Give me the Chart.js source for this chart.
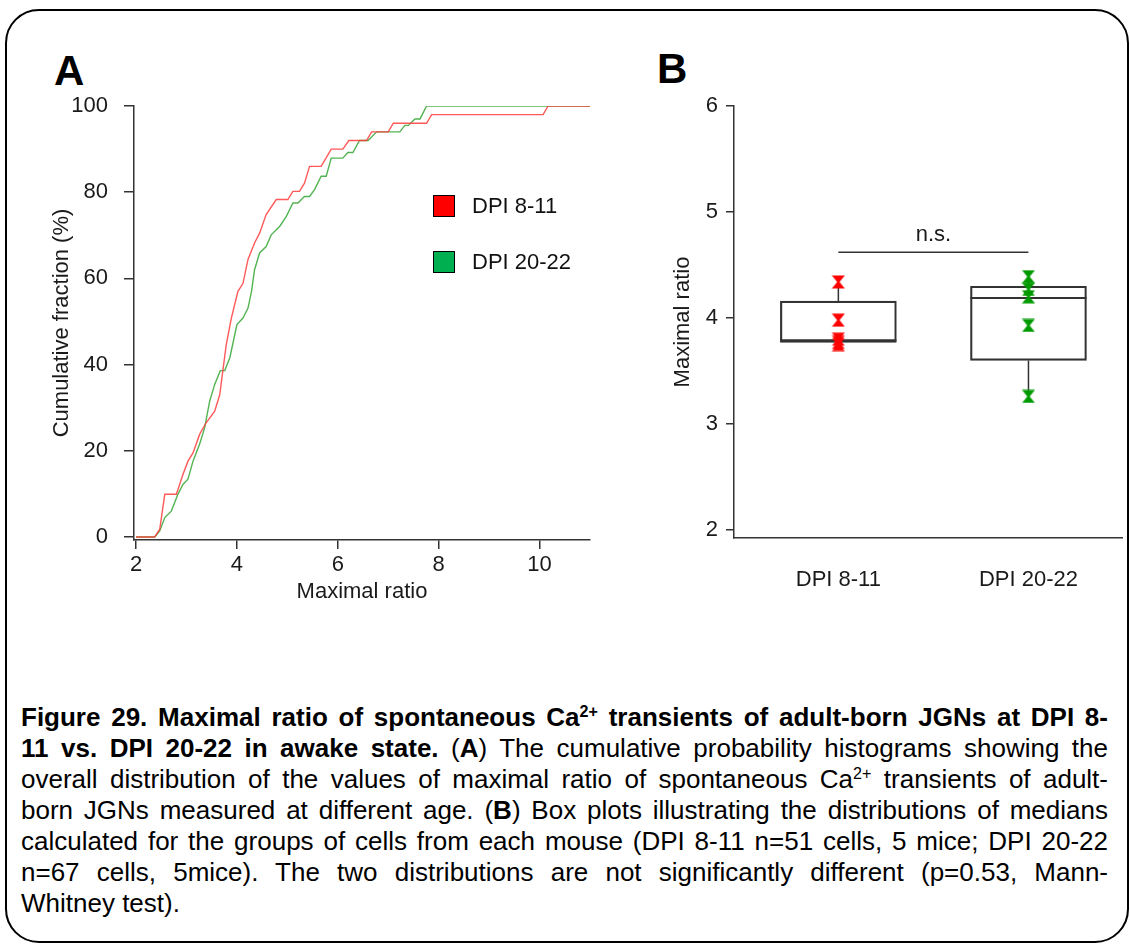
<!DOCTYPE html>
<html><head><meta charset="utf-8">
<script src="https://cdn.jsdelivr.net/npm/chart.js@4.4.1/dist/chart.umd.min.js"></script>
<style>
html,body{margin:0;padding:0;background:#fff;width:1130px;height:945px;overflow:hidden;font-family:'Liberation Sans',Arial,Helvetica,sans-serif;}
#frame{position:absolute;left:5px;top:9px;width:1120px;height:930px;border:2.5px solid #000;border-radius:34px;box-sizing:content-box;}
.plabel{position:absolute;font-weight:bold;font-size:42px;line-height:42px;color:#000;}
#cA{position:absolute;left:0;top:0;}
#cB{position:absolute;left:620px;top:0;}
.leg{position:absolute;left:433px;height:23px;display:flex;align-items:center;font-size:22px;color:#111;white-space:nowrap;}
.leg .sw{display:inline-block;width:20px;height:20px;border:1.5px solid #000;margin-right:17px;}
#caption{position:absolute;left:21px;top:702px;width:1087px;font-size:26px;line-height:31px;color:#000;}
#caption .ln{text-align:justify;text-align-last:justify;white-space:nowrap;}
#caption .last{text-align:left;text-align-last:left;}
sup{font-size:0.62em;vertical-align:0;position:relative;top:-0.55em;line-height:0;}
</style>
</head><body>
<div id="frame"></div>
<div class="plabel" style="left:54px;top:50px;">A</div>
<div class="plabel" style="left:657px;top:48px;">B</div>
<canvas id="cA" width="620" height="620"></canvas>
<canvas id="cB" width="510" height="620"></canvas>
<div id="legendA"></div>
<div id="caption">
<div class="ln"><b>Figure 29. Maximal ratio of spontaneous Ca<sup>2+</sup> transients of adult-born JGNs at DPI 8-</b></div>
<div class="ln"><b>11 vs. DPI 20-22 in awake state.</b> (<b>A</b>) The cumulative probability histograms showing the</div>
<div class="ln">overall distribution of the values of maximal ratio of spontaneous Ca<sup>2+</sup> transients of adult-</div>
<div class="ln">born JGNs measured at different age. (<b>B</b>) Box plots illustrating the distributions of medians</div>
<div class="ln">calculated for the groups of cells from each mouse (DPI 8-11 n=51 cells, 5 mice; DPI 20-22</div>
<div class="ln">n=67 cells, 5mice). The two distributions are not significantly different (p=0.53, Mann-</div>
<div class="ln last">Whitney test).</div>
</div>
<script>
// ---------- Panel A data (cumulative fraction, %) ----------
const seriesNames = ['DPI 8-11', 'DPI 20-22'];
const seriesColors = ['#ff0000', '#00b050'];
const lineColors = ['rgba(255,60,60,0.85)', 'rgba(40,160,40,0.8)'];
const redX = [2.0,2.37,2.47,2.57,2.80,2.93,3.03,3.13,3.26,3.39,3.56,3.66,3.72,3.79,3.89,4.02,4.12,4.22,4.35,4.45,4.58,4.78,5.01,5.11,5.24,5.34,5.44,5.67,5.87,6.10,6.22,6.57,6.67,7.00,7.10,7.76,7.86,10.07,10.17,11.0];
const redY = [0,0,1.8,9.9,9.9,14.5,17.6,19.5,23.8,26.5,29.2,33,38.5,44.7,50.8,57,58.8,64.4,68.2,70.5,74.8,78.3,78.3,80.2,80.2,82.1,86,86,90,90,92,92,94,94,96,96,98,98,100,100];
const greenX = [2.0,2.37,2.47,2.57,2.70,2.83,2.93,3.03,3.13,3.26,3.36,3.46,3.56,3.67,3.76,3.86,4.00,4.12,4.22,4.29,4.35,4.45,4.58,4.68,4.85,4.98,5.11,5.21,5.34,5.44,5.54,5.67,5.77,5.87,6.10,6.20,6.30,6.43,6.60,6.77,7.23,7.33,7.40,7.53,7.63,7.76,11.0];
const greenY = [0,0,1.4,4.5,6,9.9,12.2,13.4,17.6,21.5,25.3,31.5,35.4,38.6,38.6,41.6,49.3,50.8,53.1,57,62,65.9,67.4,70.1,72.1,74.4,77.5,77.5,79,79,80.6,83.7,83.7,87.9,87.9,89.2,89.2,92,92,94,94,95.5,95.5,97,97,100,100];
const xTicksA = [2,4,6,8,10];
const yTicksA = [0,20,40,60,80,100];

// ---------- Panel B data (maximal ratio, per-mouse medians) ----------
const categoriesB = ['DPI 8-11', 'DPI 20-22'];
const pointsB = [[4.34,3.98,3.80,3.77,3.75],[4.39,4.27,4.20,3.93,3.26]];
const minB = [3.75, 3.27];
const q1B = [3.77, 3.60];
const medB = [3.79, 4.19];
const q3B = [4.16, 4.30];
const maxB = [4.34, 4.39];
const yTicksB = [2,3,4,5,6];
const sigY = 4.62;
const sigText = 'n.s.';
const markerColors = ['#ff0000', '#009a00'];

Chart.defaults.font.family = "'Liberation Sans', Arial, Helvetica, sans-serif";
Chart.defaults.color = '#1a1a1a';

const axisColor = '#333';
const FS = 22;

// ---------- legend (HTML) ----------
const legEl = document.getElementById('legendA');
[194, 250].forEach((top, i) => {
  const d = document.createElement('div');
  d.className = 'leg'; d.style.top = top + 'px';
  d.innerHTML = '<span class="sw" style="background:' + seriesColors[i] + '"></span>' + seriesNames[i];
  legEl.appendChild(d);
});

// ---------- Chart A ----------
new Chart(document.getElementById('cA'), {
  type: 'line',
  data: {
    datasets: [
      { label: seriesNames[0], data: redX.map((x, i) => ({x, y: redY[i]})), borderColor: lineColors[0], borderWidth: 1.4, pointRadius: 0, tension: 0, fill: false },
      { label: seriesNames[1], data: greenX.map((x, i) => ({x, y: greenY[i]})), borderColor: lineColors[1], borderWidth: 1.4, pointRadius: 0, tension: 0, fill: false }
    ]
  },
  options: {
    responsive: false, animation: false, devicePixelRatio: 1,
    layout: { padding: { left: 0, top: 106, right: 30, bottom: 0 } },
    plugins: { legend: { display: false }, tooltip: { enabled: false } },
    scales: {
      x: {
        type: 'linear', min: 1.96, max: 11, offset: false,
        afterBuildTicks: s => { s.ticks = xTicksA.map(v => ({value: v})); },
        afterFit: s => { s.height = 80; },
        grid: { display: true, drawOnChartArea: false, drawTicks: true, tickLength: 9, color: axisColor, lineWidth: 1.5 },
        border: { display: true, color: axisColor, width: 1.5 },
        ticks: { padding: 3, font: { size: FS }, maxRotation: 0, autoSkip: false },
        title: { display: true, text: 'Maximal ratio', font: { size: FS }, padding: { top: 0, bottom: 15 } }
      },
      y: {
        type: 'linear', min: -0.7, max: 100,
        afterBuildTicks: s => { s.ticks = yTicksA.map(v => ({value: v})); },
        afterFit: s => { s.width = 134; },
        grid: { display: true, drawOnChartArea: false, drawTicks: true, tickLength: 10, color: axisColor, lineWidth: 1.5 },
        border: { display: true, color: axisColor, width: 1.5 },
        ticks: { padding: 16, font: { size: FS }, autoSkip: false },
        title: { display: true, text: 'Cumulative fraction (%)', font: { size: FS }, padding: { top: 49, bottom: 0 } }
      }
    }
  }
});

// ---------- Chart B ----------
function hourglass(color) {
  const c = document.createElement('canvas'); c.width = 14; c.height = 14;
  const g = c.getContext('2d'); g.fillStyle = color;
  g.beginPath();
  g.moveTo(0.5, 0.5); g.lineTo(13.5, 0.5); g.lineTo(8.2, 7); g.lineTo(13.5, 13.5);
  g.lineTo(0.5, 13.5); g.lineTo(5.8, 7); g.closePath(); g.fill();
  return c;
}
const posB = categoriesB.map((c, i) => i + 1);

const boxPlugin = {
  id: 'boxExtras',
  afterDatasetDraw(chart, args) {
    const ds = chart.data.datasets[args.index];
    if (ds.role !== 'box') return;
    const ys = chart.scales.y, ctx = chart.ctx;
    args.meta.data.forEach((bar, i) => {
      const half = bar.width / 2;
      ctx.save();
      ctx.strokeStyle = axisColor; ctx.lineWidth = 1.5;
      ctx.beginPath();
      ctx.moveTo(bar.x, ys.getPixelForValue(q3B[i])); ctx.lineTo(bar.x, ys.getPixelForValue(maxB[i]));
      ctx.moveTo(bar.x, ys.getPixelForValue(q1B[i])); ctx.lineTo(bar.x, ys.getPixelForValue(minB[i]));
      ctx.stroke();
      ctx.lineWidth = 2;
      const ym = ys.getPixelForValue(medB[i]);
      ctx.beginPath(); ctx.moveTo(bar.x - half, ym); ctx.lineTo(bar.x + half, ym); ctx.stroke();
      ctx.restore();
    });
  },
  afterDatasetsDraw(chart) {
    chart.data.datasets.forEach((ds, idx) => {
      if (ds.role !== 'sig') return;
      const pts = chart.getDatasetMeta(idx).data;
      const ctx = chart.ctx;
      ctx.save();
      ctx.fillStyle = '#1a1a1a';
      ctx.font = FS + "px 'Liberation Sans', Arial, sans-serif";
      ctx.textAlign = 'center'; ctx.textBaseline = 'bottom';
      ctx.fillText(sigText, (pts[0].x + pts[1].x) / 2, pts[0].y - 6);
      ctx.restore();
    });
  }
};

new Chart(document.getElementById('cB'), {
  type: 'scatter',
  data: {
    datasets: [
      { type: 'scatter', label: categoriesB[0], data: pointsB[0].map(v => ({x: posB[0], y: v})), pointStyle: hourglass(markerColors[0]), pointRadius: 7, order: 0 },
      { type: 'scatter', label: categoriesB[1], data: pointsB[1].map(v => ({x: posB[1], y: v})), pointStyle: hourglass(markerColors[1]), pointRadius: 7, order: 0 },
      { type: 'line', role: 'sig', label: 'sig', data: [{x: posB[0], y: sigY}, {x: posB[1], y: sigY}], borderColor: axisColor, borderWidth: 1.5, pointRadius: 0, showLine: true, order: 1 },
      { type: 'bar', role: 'box', label: 'box', data: posB.map((p, i) => ({x: p, y: [q1B[i], q3B[i]]})), backgroundColor: 'rgba(255,255,255,0)', borderColor: axisColor, borderWidth: 1.5, borderSkipped: false, barThickness: 116, order: 2 }
    ]
  },
  options: {
    responsive: false, animation: false, devicePixelRatio: 1,
    layout: { padding: { left: 0, top: 106, right: 2, bottom: 0 } },
    plugins: { legend: { display: false }, tooltip: { enabled: false } },
    scales: {
      x: {
        type: 'linear', min: 0.451, max: 2.492, offset: false,
        afterBuildTicks: s => { s.ticks = posB.map(v => ({value: v})); },
        afterFit: s => { s.height = 82; },
        grid: { display: false, drawTicks: false, offset: false },
        border: { display: true, color: axisColor, width: 1.5 },
        ticks: { padding: 29, font: { size: FS }, maxRotation: 0, autoSkip: false, callback: (v) => categoriesB[Math.round(v) - 1] || '' }
      },
      y: {
        type: 'linear', min: 1.925, max: 6,
        afterBuildTicks: s => { s.ticks = yTicksB.map(v => ({value: v})); },
        afterFit: s => { s.width = 114; },
        grid: { display: true, drawOnChartArea: false, drawTicks: true, tickLength: 8, color: axisColor, lineWidth: 1.5 },
        border: { display: true, color: axisColor, width: 1.5 },
        ticks: { padding: 8, font: { size: FS }, autoSkip: false },
        title: { display: true, text: 'Maximal ratio', font: { size: FS }, padding: { top: 50, bottom: 0 } }
      }
    }
  },
  plugins: [boxPlugin]
});
</script>
</body></html>
